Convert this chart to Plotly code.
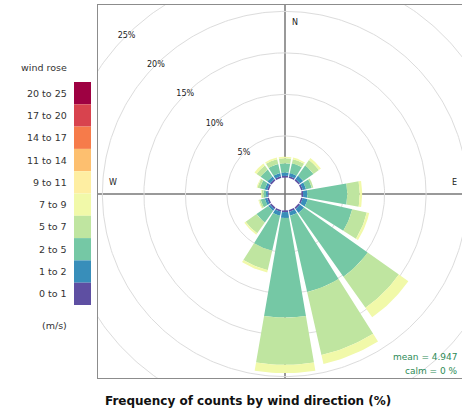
import numpy as np
import plotly.graph_objects as go

# ---------------- data ----------------
directions = ["N", "NNE", "NE", "ENE", "E", "ESE", "SE", "SSE",
              "S", "SSW", "SW", "WSW", "W", "WNW", "NW", "NNW"]
dir_angles = [0, 22.5, 45, 67.5, 90, 112.5, 135, 157.5,
              180, 202.5, 225, 247.5, 270, 292.5, 315, 337.5]

speed_bins = ["0 to 1", "1 to 2", "2 to 5", "5 to 7", "7 to 9",
              "9 to 11", "11 to 14", "14 to 17", "17 to 20", "20 to 25"]
bin_colors = ["#5E4FA2", "#388EBA", "#75C8A5", "#BFE5A0", "#F1F9A9",
              "#FEEEA2", "#FDBF6F", "#F67B4A", "#D8434E", "#9E0142"]

# frequency (%) per direction (order as `directions`) for each speed bin
freq_0_1 = [0.2, 0.2, 0.2, 0.2, 0.2, 0.2, 0.2, 0.2, 0.2, 0.2, 0.2, 0.2, 0.1, 0.2, 0.2, 0.2]
freq_1_2 = [0.4, 0.4, 0.5, 0.4, 0.5, 0.6, 0.6, 0.5, 0.7, 0.5, 0.3, 0.3, 0.2, 0.3, 0.4, 0.4]
freq_2_5 = [1.1, 1.2, 1.5, 0.7, 4.8, 5.5, 9.4, 9.4, 12.0, 4.3, 1.7, 0.5, 0.3, 0.6, 1.0, 1.1]
freq_5_7 = [0.6, 0.5, 0.8, 0.2, 1.5, 1.8, 4.6, 7.8, 5.7, 2.4, 1.6, 0.2, 0.2, 0.3, 0.6, 0.6]
freq_7_9 = [0.2, 0.2, 0.3, 0.0, 0.3, 0.3, 1.4, 1.1, 1.0, 0.3, 0.2, 0.1, 0.1, 0.1, 0.3, 0.2]
freq_9_11 = [0.0] * 16
freq_11_14 = [0.0] * 16
freq_14_17 = [0.0] * 16
freq_17_20 = [0.0] * 16
freq_20_25 = [0.0] * 16

ring_values = [5, 10, 15, 20, 25]
ring_labels = ["5%", "10%", "15%", "20%", "25%"]
mean_text = "mean = 4.947"
calm_text = "calm = 0 %"
title_text = "Frequency of counts by wind direction (%)"
legend_title = "wind rose"
legend_units = "(m/s)"

# ---------------- layout geometry ----------------
W, H = 462, 411
L, R, T, B = 98, 0, 5, 33
PW, PH = W - L - R, H - T - B
CX, CY = 285, 194          # pixel centre of the rose
SCALE = 8.3                # pixels per percent
OFFSET = 2.0               # hole (in %)
HALF = 9.75                # half wedge width (deg)
FONT = "DejaVu Sans, Verdana, sans-serif"

xr = [-(CX - L) / SCALE, (W - R - CX) / SCALE]
yr = [-(H - B - CY) / SCALE, (CY - T) / SCALE]


def px(x):
    return (x - L) / PW


def py(y):
    return (H - B - y) / PH


all_bins = [freq_0_1, freq_1_2, freq_2_5, freq_5_7, freq_7_9,
            freq_9_11, freq_11_14, freq_14_17, freq_17_20, freq_20_25]

fig = go.Figure()

# grid circles
t = np.linspace(0, 2 * np.pi, 361)
for rv in ring_values:
    rr = rv + OFFSET
    fig.add_trace(go.Scatter(x=rr * np.sin(t), y=rr * np.cos(t), mode="lines",
                             line=dict(color="#dcdcdc", width=1),
                             hoverinfo="skip", showlegend=False))

# wedges
cum = np.zeros(len(directions))
for bi, vals in enumerate(all_bins):
    vals = np.array(vals, dtype=float)
    xs, ys = [], []
    for di, ang in enumerate(dir_angles):
        if vals[di] <= 0:
            continue
        r1 = cum[di] + OFFSET
        r2 = cum[di] + vals[di] + OFFSET
        a = np.radians(np.linspace(ang - HALF, ang + HALF, 15))
        xx = np.concatenate([r1 * np.sin(a), r2 * np.sin(a[::-1])])
        yy = np.concatenate([r1 * np.cos(a), r2 * np.cos(a[::-1])])
        xs += list(xx) + [xx[0], None]
        ys += list(yy) + [yy[0], None]
    cum = cum + vals
    if xs:
        fig.add_trace(go.Scatter(x=xs, y=ys, mode="lines", fill="toself",
                                 fillcolor=bin_colors[bi],
                                 line=dict(width=0, color=bin_colors[bi]),
                                 name=speed_bins[bi], hoverinfo="skip",
                                 showlegend=False))

# ring labels along the NW diagonal
lab_a = np.radians(315)
fig.add_trace(go.Scatter(
    x=[(v + OFFSET) * np.sin(lab_a) for v in ring_values],
    y=[(v + OFFSET) * np.cos(lab_a) for v in ring_values],
    mode="text", text=ring_labels, textposition="middle center",
    textfont=dict(size=8, color="#222222", family=FONT),
    hoverinfo="skip", showlegend=False, cliponaxis=False))

shapes = [
    dict(type="line", xref="x", yref="y", x0=xr[0], x1=xr[1], y0=0, y1=0,
         line=dict(color="#777777", width=1.5), layer="below"),
    dict(type="line", xref="x", yref="y", x0=0, x1=0, y0=yr[0], y1=yr[1],
         line=dict(color="#777777", width=1.5), layer="below"),
]

annotations = []
font_s = dict(family=FONT, size=8, color="#222222")
annotations += [
    dict(x=0.6, y=(CY - 22) / SCALE, xref="x", yref="y", text="N",
         showarrow=False, xanchor="left", yanchor="middle", font=font_s),
    dict(x=-(CX - 107) / SCALE, y=(CY - 182) / SCALE, xref="x", yref="y",
         text="W", showarrow=False, xanchor="left", yanchor="middle", font=font_s),
    dict(x=(450 - CX) / SCALE, y=(CY - 182) / SCALE, xref="x", yref="y",
         text="E", showarrow=False, xanchor="left", yanchor="middle", font=font_s),
]
font_g = dict(family=FONT, size=9, color="#2E8B57")
annotations += [
    dict(x=px(460), y=py(357), xref="paper", yref="paper", text=mean_text,
         showarrow=False, xanchor="right", yanchor="middle", font=font_g),
    dict(x=px(460), y=py(371), xref="paper", yref="paper", text=calm_text,
         showarrow=False, xanchor="right", yanchor="middle", font=font_g),
]

# colour key on the left
top, bot = 82, 305
n = len(speed_bins)
h = (bot - top) / n
font_k = dict(family=FONT, size=9.5, color="#333333")
for i in range(n):
    k = n - 1 - i
    y0 = top + i * h
    shapes.append(dict(type="rect", xref="paper", yref="paper",
                       x0=px(74), x1=px(91), y0=py(y0 + h), y1=py(y0),
                       fillcolor=bin_colors[k], line=dict(width=0)))
    annotations.append(dict(x=px(69), y=py(y0 + h / 2), xref="paper", yref="paper",
                            text=speed_bins[k], showarrow=False, xanchor="right",
                            yanchor="middle", font=font_k))
annotations.append(dict(x=px(69), y=py(67), xref="paper", yref="paper",
                        text=legend_title, showarrow=False, xanchor="right",
                        yanchor="middle", font=font_k))
annotations.append(dict(x=px(69), y=py(325), xref="paper", yref="paper",
                        text=legend_units, showarrow=False, xanchor="right",
                        yanchor="middle", font=font_k))
annotations.append(dict(x=px(248), y=py(401), xref="paper", yref="paper",
                        text="<b>" + title_text + "</b>", showarrow=False,
                        xanchor="center", yanchor="middle",
                        font=dict(family=FONT, size=12, color="#111111")))

fig.update_layout(
    width=W, height=H,
    margin=dict(l=L, r=R, t=T, b=B, pad=0),
    paper_bgcolor="white", plot_bgcolor="white",
    xaxis=dict(range=xr, showgrid=False, zeroline=False, showticklabels=False,
               ticks="", showline=True, mirror=True, linecolor="#8c8c8c",
               linewidth=1, fixedrange=True),
    yaxis=dict(range=yr, showgrid=False, zeroline=False, showticklabels=False,
               ticks="", showline=True, mirror=False, linecolor="#8c8c8c",
               linewidth=1, fixedrange=True),
    shapes=shapes, annotations=annotations, showlegend=False,
)

fig.write_html("out.html",
               config={"displayModeBar": False},
               post_script="document.body.style.margin='0px';"
                           "document.body.style.overflow='hidden';")
